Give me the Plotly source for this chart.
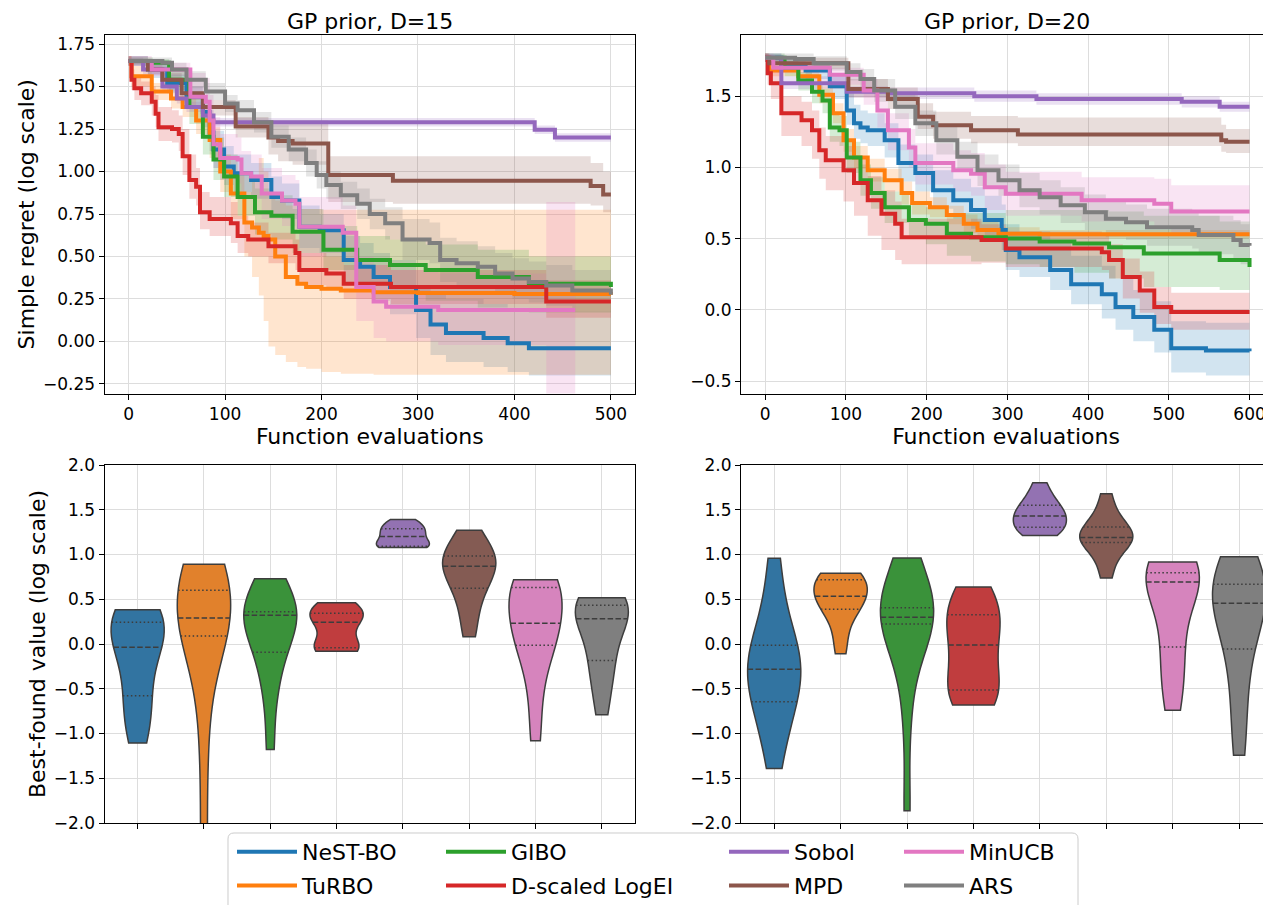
import numpy as np
import plotly.graph_objects as go

W, H = 1271, 905
OFF = 8  # the page body offsets the figure by 8px; layout positions below are screen pixels
FONT = "DejaVu Sans"

methods = ["NeST-BO", "TuRBO", "GIBO", "D-scaled LogEI", "Sobol", "MPD", "MinUCB", "ARS"]
line_colors = ["#1f77b4", "#ff7f0e", "#2ca02c", "#d62728", "#9467bd", "#8c564b", "#e377c2", "#7f7f7f"]
violin_colors = ["#3274a1", "#e1812c", "#3a923a", "#c03d3e", "#9372b2", "#845b53", "#d684bd", "#7f7f7f"]
legend_of = {"NeST-BO": "legend", "TuRBO": "legend", "GIBO": "legend2", "D-scaled LogEI": "legend2",
             "Sobol": "legend3", "MPD": "legend3", "MinUCB": "legend4", "ARS": "legend4"}

titles = ["GP prior, D=15", "GP prior, D=20"]
x_ticks_15 = [0, 100, 200, 300, 400, 500]
x_ticks_20 = [0, 100, 200, 300, 400, 500, 600]
y_ticks_15 = [-0.25, 0.0, 0.25, 0.5, 0.75, 1.0, 1.25, 1.5, 1.75]
y_ticks_20 = [-0.5, 0.0, 0.5, 1.0, 1.5]
y_ticks_violin = [-2.0, -1.5, -1.0, -0.5, 0.0, 0.5, 1.0, 1.5, 2.0]

# ---------------- D = 15 : simple regret curves ----------------
d15_nest_x = [0, 20, 40, 60, 77, 84, 88, 99, 109, 127, 148, 159, 177, 198, 223, 240, 254, 271, 298, 313, 329, 368, 393, 415, 500]
d15_nest_y = [1.65, 1.60, 1.52, 1.44, 1.35, 1.23, 1.13, 1.03, 0.99, 0.95, 0.85, 0.83, 0.675, 0.655, 0.48, 0.44, 0.38, 0.32, 0.185, 0.10, 0.05, 0.02, -0.01, -0.04, -0.04]
d15_nest_hi = [1.68, 1.64, 1.57, 1.50, 1.42, 1.32, 1.24, 1.15, 1.10, 1.05, 0.97, 0.93, 0.80, 0.75, 0.62, 0.58, 0.52, 0.48, 0.33, 0.28, 0.25, 0.22, 0.20, 0.18, 0.18]
d15_nest_lo = [1.62, 1.55, 1.46, 1.37, 1.26, 1.12, 1.02, 0.92, 0.88, 0.84, 0.74, 0.72, 0.55, 0.52, 0.34, 0.30, 0.24, 0.16, 0.02, -0.08, -0.12, -0.15, -0.18, -0.20, -0.20]

d15_turbo_x = [0, 3, 24, 44, 56, 70, 84, 95, 106, 120, 128, 135, 140, 145, 152, 163, 175, 184, 200, 220, 254, 300, 400, 500]
d15_turbo_y = [1.65, 1.56, 1.47, 1.43, 1.38, 1.30, 1.185, 1.00, 0.87, 0.70, 0.67, 0.64, 0.62, 0.60, 0.50, 0.38, 0.34, 0.32, 0.31, 0.30, 0.29, 0.285, 0.28, 0.275]
d15_turbo_hi = [1.68, 1.62, 1.52, 1.48, 1.43, 1.36, 1.26, 1.10, 0.98, 0.88, 0.95, 1.08, 1.00, 0.86, 0.83, 0.80, 0.78, 0.78, 0.775, 0.775, 0.775, 0.775, 0.775, 0.775]
d15_turbo_lo = [1.62, 1.50, 1.42, 1.37, 1.32, 1.22, 1.08, 0.88, 0.72, 0.50, 0.38, 0.27, 0.12, -0.03, -0.08, -0.12, -0.15, -0.16, -0.18, -0.19, -0.195, -0.195, -0.195, -0.195]

d15_gibo_x = [0, 25, 42, 63, 77, 88, 99, 113, 131, 148, 170, 202, 237, 271, 308, 362, 415, 500]
d15_gibo_y = [1.65, 1.64, 1.54, 1.38, 1.205, 1.07, 0.97, 0.85, 0.76, 0.74, 0.645, 0.54, 0.48, 0.45, 0.42, 0.38, 0.34, 0.32]
d15_gibo_hi = [1.67, 1.66, 1.60, 1.47, 1.32, 1.20, 1.10, 0.98, 0.90, 0.86, 0.78, 0.68, 0.62, 0.60, 0.57, 0.54, 0.50, 0.48]
d15_gibo_lo = [1.63, 1.61, 1.48, 1.28, 1.10, 0.95, 0.85, 0.74, 0.63, 0.60, 0.52, 0.42, 0.33, 0.28, 0.24, 0.20, 0.17, 0.16]

d15_logei_x = [0, 3, 6, 13, 24, 28, 31, 45, 52, 56, 63, 70, 74, 84, 106, 113, 124, 145, 173, 177, 205, 223, 272, 433, 500]
d15_logei_y = [1.65, 1.54, 1.49, 1.46, 1.41, 1.34, 1.26, 1.25, 1.22, 1.09, 0.95, 0.91, 0.76, 0.72, 0.695, 0.62, 0.60, 0.56, 0.52, 0.42, 0.40, 0.34, 0.32, 0.235, 0.235]
d15_logei_hi = [1.68, 1.60, 1.56, 1.53, 1.50, 1.45, 1.38, 1.36, 1.33, 1.25, 1.10, 1.02, 0.88, 0.85, 0.82, 0.74, 0.70, 0.64, 0.60, 0.52, 0.50, 0.45, 0.42, 0.36, 0.36]
d15_logei_lo = [1.62, 1.48, 1.42, 1.39, 1.33, 1.26, 1.18, 1.17, 1.12, 0.98, 0.84, 0.80, 0.66, 0.62, 0.58, 0.52, 0.50, 0.46, 0.42, 0.33, 0.31, 0.25, 0.22, 0.14, 0.14]

d15_sobol_x = [0, 15, 35, 50, 60, 77, 88, 421, 442, 500]
d15_sobol_y = [1.65, 1.60, 1.50, 1.43, 1.38, 1.33, 1.29, 1.245, 1.20, 1.20]
d15_sobol_hi = [1.67, 1.63, 1.53, 1.46, 1.41, 1.36, 1.315, 1.27, 1.225, 1.225]
d15_sobol_lo = [1.63, 1.57, 1.47, 1.40, 1.35, 1.30, 1.265, 1.22, 1.175, 1.175]

d15_mpd_x = [0, 20, 35, 55, 77, 111, 145, 155, 170, 207, 274, 479, 492, 500]
d15_mpd_y = [1.65, 1.60, 1.54, 1.46, 1.38, 1.265, 1.20, 1.18, 1.165, 0.98, 0.945, 0.915, 0.865, 0.865]
d15_mpd_hi = [1.68, 1.63, 1.58, 1.50, 1.42, 1.32, 1.30, 1.30, 1.30, 1.09, 1.09, 1.05, 1.00, 1.00]
d15_mpd_lo = [1.62, 1.57, 1.50, 1.42, 1.33, 1.20, 1.10, 1.06, 1.04, 0.82, 0.81, 0.80, 0.76, 0.76]

d15_minucb_x = [0, 24, 64, 80, 84, 88, 95, 113, 117, 127, 138, 159, 173, 177, 222, 236, 254, 267, 321, 433, 463]
d15_minucb_y = [1.65, 1.60, 1.44, 1.41, 1.30, 1.16, 1.08, 1.07, 0.99, 0.97, 0.87, 0.83, 0.81, 0.675, 0.64, 0.32, 0.235, 0.205, 0.185, 0.185, 0.185]
d15_minucb_hi = [1.68, 1.64, 1.58, 1.55, 1.45, 1.32, 1.22, 1.20, 1.12, 1.10, 1.02, 0.98, 0.95, 0.85, 0.80, 0.50, 0.45, 0.42, 0.40, 0.82, 0.82]
d15_minucb_lo = [1.62, 1.56, 1.36, 1.30, 1.18, 1.02, 0.95, 0.93, 0.86, 0.84, 0.72, 0.68, 0.66, 0.50, 0.47, 0.12, 0.02, 0.00, -0.02, -0.50, -0.50]

d15_ars_x = [0, 35, 45, 60, 80, 100, 113, 130, 148, 166, 184, 195, 205, 220, 237, 250, 266, 284, 312, 323, 340, 362, 380, 398, 415, 433, 460, 500]
d15_ars_y = [1.65, 1.64, 1.60, 1.54, 1.47, 1.40, 1.36, 1.29, 1.205, 1.13, 1.05, 0.98, 0.92, 0.86, 0.81, 0.75, 0.695, 0.60, 0.58, 0.48, 0.46, 0.44, 0.40, 0.37, 0.35, 0.33, 0.30, 0.275]
d15_ars_hi = [1.67, 1.67, 1.64, 1.59, 1.52, 1.45, 1.42, 1.35, 1.27, 1.20, 1.13, 1.06, 1.00, 0.94, 0.90, 0.84, 0.79, 0.72, 0.70, 0.61, 0.59, 0.56, 0.52, 0.49, 0.47, 0.45, 0.42, 0.40]
d15_ars_lo = [1.63, 1.61, 1.56, 1.49, 1.42, 1.35, 1.30, 1.23, 1.14, 1.06, 0.97, 0.90, 0.84, 0.78, 0.72, 0.66, 0.60, 0.48, 0.46, 0.35, 0.33, 0.31, 0.28, 0.25, 0.23, 0.21, 0.18, 0.15]

# ---------------- D = 20 : simple regret curves ----------------
d20_nest_x = [0, 20, 50, 80, 101, 110, 118, 127, 148, 165, 186, 208, 233, 255, 272, 293, 298, 315, 353, 379, 417, 434, 456, 482, 503, 546, 600]
d20_nest_y = [1.77, 1.72, 1.68, 1.57, 1.40, 1.31, 1.28, 1.26, 1.19, 1.03, 0.96, 0.84, 0.77, 0.70, 0.63, 0.56, 0.42, 0.37, 0.28, 0.18, 0.11, 0.02, -0.05, -0.14, -0.27, -0.285, -0.29]
d20_nest_hi = [1.80, 1.76, 1.73, 1.65, 1.52, 1.44, 1.40, 1.38, 1.31, 1.16, 1.09, 0.98, 0.92, 0.86, 0.80, 0.74, 0.60, 0.55, 0.47, 0.38, 0.31, 0.22, 0.14, 0.06, -0.08, -0.09, -0.10]
d20_nest_lo = [1.74, 1.68, 1.62, 1.48, 1.30, 1.20, 1.17, 1.15, 1.07, 0.90, 0.83, 0.71, 0.64, 0.57, 0.50, 0.42, 0.28, 0.23, 0.14, 0.04, -0.06, -0.14, -0.22, -0.30, -0.44, -0.46, -0.48]

d20_turbo_x = [0, 5, 41, 67, 84, 97, 110, 127, 148, 169, 182, 204, 225, 246, 263, 289, 340, 600]
d20_turbo_y = [1.77, 1.68, 1.64, 1.51, 1.38, 1.19, 1.07, 0.98, 0.91, 0.82, 0.75, 0.72, 0.665, 0.605, 0.56, 0.535, 0.53, 0.53]
d20_turbo_hi = [1.80, 1.72, 1.69, 1.57, 1.45, 1.27, 1.15, 1.06, 0.99, 0.90, 0.83, 0.79, 0.73, 0.67, 0.62, 0.58, 0.56, 0.56]
d20_turbo_lo = [1.74, 1.64, 1.59, 1.45, 1.31, 1.11, 0.99, 0.90, 0.83, 0.74, 0.67, 0.65, 0.60, 0.54, 0.50, 0.49, 0.50, 0.50]

d20_gibo_x = [0, 24, 41, 58, 71, 80, 92, 101, 118, 131, 148, 178, 199, 225, 255, 298, 340, 383, 426, 469, 563, 600]
d20_gibo_y = [1.77, 1.70, 1.61, 1.53, 1.47, 1.28, 1.26, 1.07, 0.91, 0.82, 0.72, 0.63, 0.605, 0.535, 0.51, 0.50, 0.48, 0.465, 0.44, 0.395, 0.35, 0.30]
d20_gibo_hi = [1.80, 1.75, 1.67, 1.60, 1.55, 1.38, 1.36, 1.18, 1.02, 0.93, 0.83, 0.74, 0.72, 0.68, 0.68, 0.70, 0.70, 0.70, 0.69, 0.66, 0.62, 0.60]
d20_gibo_lo = [1.74, 1.64, 1.54, 1.45, 1.38, 1.18, 1.15, 0.96, 0.80, 0.71, 0.61, 0.50, 0.46, 0.38, 0.34, 0.32, 0.30, 0.26, 0.22, 0.16, 0.14, 0.13]

d20_logei_x = [0, 3, 7, 20, 45, 58, 67, 75, 97, 110, 127, 144, 161, 169, 268, 298, 417, 426, 443, 464, 482, 503, 600]
d20_logei_y = [1.77, 1.66, 1.59, 1.38, 1.33, 1.26, 1.12, 1.05, 0.98, 0.89, 0.77, 0.675, 0.605, 0.51, 0.49, 0.43, 0.405, 0.35, 0.23, 0.135, 0.02, -0.015, -0.015]
d20_logei_hi = [1.80, 1.72, 1.68, 1.50, 1.46, 1.40, 1.28, 1.22, 1.15, 1.06, 0.94, 0.84, 0.76, 0.64, 0.60, 0.55, 0.52, 0.46, 0.36, 0.27, 0.16, 0.12, 0.12]
d20_logei_lo = [1.74, 1.58, 1.48, 1.22, 1.15, 1.06, 0.92, 0.84, 0.76, 0.66, 0.52, 0.42, 0.35, 0.32, 0.33, 0.30, 0.28, 0.22, 0.08, -0.02, -0.10, -0.14, -0.14]

d20_sobol_x = [0, 20, 101, 152, 259, 336, 516, 563, 600]
d20_sobol_y = [1.77, 1.59, 1.53, 1.52, 1.50, 1.48, 1.46, 1.425, 1.425]
d20_sobol_hi = [1.80, 1.64, 1.57, 1.56, 1.54, 1.52, 1.50, 1.46, 1.46]
d20_sobol_lo = [1.74, 1.55, 1.49, 1.48, 1.46, 1.44, 1.42, 1.39, 1.39]

d20_mpd_x = [0, 5, 103, 152, 189, 208, 255, 313, 565, 571, 600]
d20_mpd_y = [1.77, 1.73, 1.55, 1.48, 1.355, 1.295, 1.26, 1.23, 1.19, 1.18, 1.18]
d20_mpd_hi = [1.80, 1.77, 1.62, 1.56, 1.45, 1.39, 1.36, 1.35, 1.30, 1.27, 1.27]
d20_mpd_lo = [1.74, 1.69, 1.49, 1.41, 1.27, 1.20, 1.17, 1.15, 1.11, 1.10, 1.10]

d20_minucb_x = [0, 10, 80, 122, 139, 152, 178, 186, 233, 255, 272, 298, 392, 482, 503, 600]
d20_minucb_y = [1.77, 1.70, 1.65, 1.54, 1.40, 1.26, 1.14, 1.03, 0.98, 0.955, 0.86, 0.815, 0.77, 0.745, 0.69, 0.69]
d20_minucb_hi = [1.80, 1.74, 1.70, 1.62, 1.50, 1.38, 1.27, 1.17, 1.12, 1.10, 1.02, 0.97, 0.93, 0.92, 0.875, 0.875]
d20_minucb_lo = [1.74, 1.66, 1.58, 1.44, 1.28, 1.12, 1.00, 0.88, 0.83, 0.80, 0.70, 0.66, 0.62, 0.58, 0.535, 0.535]

d20_ars_x = [0, 37, 60, 101, 118, 135, 161, 186, 212, 238, 263, 289, 315, 340, 366, 396, 422, 447, 473, 529, 537, 580, 589, 600]
d20_ars_y = [1.77, 1.76, 1.73, 1.67, 1.62, 1.54, 1.425, 1.31, 1.19, 1.075, 0.98, 0.91, 0.84, 0.79, 0.735, 0.685, 0.64, 0.615, 0.58, 0.56, 0.525, 0.49, 0.455, 0.45]
d20_ars_hi = [1.80, 1.80, 1.78, 1.73, 1.69, 1.62, 1.51, 1.40, 1.29, 1.18, 1.09, 1.02, 0.96, 0.91, 0.86, 0.81, 0.77, 0.74, 0.71, 0.69, 0.66, 0.63, 0.60, 0.60]
d20_ars_lo = [1.74, 1.72, 1.68, 1.61, 1.55, 1.46, 1.34, 1.22, 1.09, 0.97, 0.87, 0.80, 0.72, 0.67, 0.61, 0.56, 0.51, 0.49, 0.45, 0.43, 0.39, 0.36, 0.32, 0.31]

# ---------------- best-found values (per-run samples) ----------------
v15_nest = [-1.107, -0.90, -0.70, -0.578, -0.30, -0.10, -0.037, 0.10, 0.20, 0.242, 0.32, 0.36, 0.384]
v15_turbo = [-2.30, -1.20, -0.40, 0.09, 0.18, 0.24, 0.29, 0.42, 0.52, 0.60, 0.72, 0.82, 0.89]
v15_gibo = [-1.18, -0.60, -0.30, -0.093, 0.05, 0.20, 0.32, 0.33, 0.35, 0.36, 0.45, 0.60, 0.73]
v15_logei = [-0.082, -0.07, -0.05, -0.041, 0.00, 0.15, 0.242, 0.28, 0.32, 0.343, 0.38, 0.42, 0.462]
v15_sobol = [1.077, 1.08, 1.085, 1.092, 1.12, 1.16, 1.20, 1.23, 1.26, 1.289, 1.32, 1.35, 1.39]
v15_mpd = [0.082, 0.30, 0.50, 0.622, 0.72, 0.80, 0.868, 0.90, 0.95, 0.984, 1.05, 1.15, 1.27]
v15_minucb = [-1.08, -0.60, -0.20, -0.015, 0.08, 0.16, 0.231, 0.40, 0.55, 0.63, 0.67, 0.70, 0.719]
v15_ars = [-0.79, -0.50, -0.30, -0.183, 0.00, 0.15, 0.283, 0.33, 0.40, 0.432, 0.47, 0.50, 0.518]

v20_nest = [-1.39, -1.00, -0.80, -0.645, -0.50, -0.38, -0.283, -0.20, -0.10, -0.015, 0.20, 0.50, 0.958]
v20_turbo = [-0.108, 0.10, 0.30, 0.387, 0.45, 0.50, 0.533, 0.58, 0.65, 0.719, 0.74, 0.77, 0.79]
v20_gibo = [-1.863, -0.80, -0.20, 0.224, 0.25, 0.28, 0.298, 0.33, 0.37, 0.406, 0.55, 0.75, 0.961]
v20_logei = [-0.682, -0.62, -0.56, -0.514, -0.35, -0.18, -0.011, 0.10, 0.22, 0.328, 0.42, 0.53, 0.637]
v20_sobol = [1.211, 1.24, 1.28, 1.304, 1.35, 1.40, 1.43, 1.46, 1.50, 1.55, 1.60, 1.68, 1.803]
v20_mpd = [0.738, 0.90, 1.05, 1.133, 1.15, 1.17, 1.189, 1.22, 1.27, 1.308, 1.38, 1.50, 1.68]
v20_minucb = [-0.741, -0.50, -0.25, -0.034, 0.20, 0.50, 0.693, 0.72, 0.76, 0.797, 0.84, 0.88, 0.917]
v20_ars = [-1.244, -0.80, -0.40, -0.056, 0.15, 0.33, 0.455, 0.52, 0.60, 0.667, 0.75, 0.85, 0.976]

curves15 = [
    (d15_nest_x, d15_nest_y, d15_nest_lo, d15_nest_hi),
    (d15_turbo_x, d15_turbo_y, d15_turbo_lo, d15_turbo_hi),
    (d15_gibo_x, d15_gibo_y, d15_gibo_lo, d15_gibo_hi),
    (d15_logei_x, d15_logei_y, d15_logei_lo, d15_logei_hi),
    (d15_sobol_x, d15_sobol_y, d15_sobol_lo, d15_sobol_hi),
    (d15_mpd_x, d15_mpd_y, d15_mpd_lo, d15_mpd_hi),
    (d15_minucb_x, d15_minucb_y, d15_minucb_lo, d15_minucb_hi),
    (d15_ars_x, d15_ars_y, d15_ars_lo, d15_ars_hi),
]
curves20 = [
    (d20_nest_x, d20_nest_y, d20_nest_lo, d20_nest_hi),
    (d20_turbo_x, d20_turbo_y, d20_turbo_lo, d20_turbo_hi),
    (d20_gibo_x, d20_gibo_y, d20_gibo_lo, d20_gibo_hi),
    (d20_logei_x, d20_logei_y, d20_logei_lo, d20_logei_hi),
    (d20_sobol_x, d20_sobol_y, d20_sobol_lo, d20_sobol_hi),
    (d20_mpd_x, d20_mpd_y, d20_mpd_lo, d20_mpd_hi),
    (d20_minucb_x, d20_minucb_y, d20_minucb_lo, d20_minucb_hi),
    (d20_ars_x, d20_ars_y, d20_ars_lo, d20_ars_hi),
]
violins15 = [v15_nest, v15_turbo, v15_gibo, v15_logei, v15_sobol, v15_mpd, v15_minucb, v15_ars]
violins20 = [v20_nest, v20_turbo, v20_gibo, v20_logei, v20_sobol, v20_mpd, v20_minucb, v20_ars]


def rgba(hexc, a):
    h = hexc.lstrip("#")
    return "rgba(%d,%d,%d,%.2f)" % (int(h[0:2], 16), int(h[2:4], 16), int(h[4:6], 16), a)


fig = go.Figure()


def add_curves(curves, xa, ya, legend_on):
    for (x, y, lo, hi), c in zip(curves, line_colors):
        fig.add_trace(go.Scatter(x=x, y=lo, xaxis=xa, yaxis=ya, mode="lines",
                                 line=dict(width=0, shape="hv", color=c),
                                 showlegend=False, hoverinfo="skip"))
        fig.add_trace(go.Scatter(x=x, y=hi, xaxis=xa, yaxis=ya, mode="lines",
                                 line=dict(width=0, shape="hv", color=c),
                                 fill="tonexty", fillcolor=rgba(c, 0.2),
                                 showlegend=False, hoverinfo="skip"))
    for (x, y, lo, hi), c, name in zip(curves, line_colors, methods):
        fig.add_trace(go.Scatter(x=x, y=y, xaxis=xa, yaxis=ya, mode="lines", name=name,
                                 line=dict(width=4, shape="hv", color=c),
                                 showlegend=legend_on, legend=legend_of[name],
                                 legendgroup=name, hoverinfo="skip"))


def kde(vals, bw, t):
    v = np.asarray(vals, dtype=float)
    z = (np.asarray(t)[:, None] - v[None, :]) / bw
    return np.exp(-0.5 * z * z).sum(axis=1) / (len(v) * bw * np.sqrt(2 * np.pi))


VW = 0.8
EDGE = "#3d3d3d"


def add_violins(groups, xa, ya, tag):
    for i, (s, c) in enumerate(zip(groups, violin_colors)):
        s = np.asarray(s, dtype=float)
        bw = float(np.std(s, ddof=1) * len(s) ** (-0.2))
        fig.add_trace(go.Violin(x0=i, y=s, xaxis=xa, yaxis=ya, name=methods[i],
                                width=VW, spanmode="hard", bandwidth=bw,
                                scalemode="width", scalegroup="%s%d" % (tag, i),
                                fillcolor=c, opacity=1, line=dict(color=EDGE, width=1.5),
                                points=False, box_visible=False, meanline_visible=False,
                                showlegend=False, hoverinfo="skip"))
        lo, hi = s.min(), s.max()
        n = int(np.ceil((hi - lo) / (bw / 3)))
        grid = lo + (hi - lo) / n * np.arange(n + 1)
        dmax = kde(s, bw, grid).max()
        for q, dash in [(25, "1.5px,2.5px"), (50, "5.5px,2.4px"), (75, "1.5px,2.5px")]:
            v = float(np.percentile(s, q))
            hw = VW / 2 * float(kde(s, bw, [v])[0]) / dmax
            fig.add_trace(go.Scatter(x=[i - hw, i + hw], y=[v, v], xaxis=xa, yaxis=ya,
                                     mode="lines", line=dict(color=EDGE, width=1.5, dash=dash),
                                     showlegend=False, hoverinfo="skip"))


add_curves(curves15, "x", "y", True)
add_curves(curves20, "x2", "y2", False)
add_violins(violins15, "x3", "y3", "a")
add_violins(violins20, "x4", "y4", "b")


def px(v):
    return (v - OFF) / W


def py(v):
    return 1 - (v - OFF) / H


dom_left = [px(104.5), px(635)]
dom_right = [px(741), px(1271)]
dom_top = [py(393.5), py(35)]
dom_bot = [py(823), py(465)]

tickfont = dict(size=17, family=FONT, color="black")
labfont = dict(size=22, family=FONT, color="black")
common = dict(showline=True, linecolor="black", linewidth=1, ticks="outside", ticklen=5,
              tickwidth=1, tickcolor="black", showgrid=True, gridcolor="#dddddd", gridwidth=1,
              zeroline=False, tickfont=tickfont, type="linear", automargin=False)

fig.update_layout(
    width=W, height=H, margin=dict(l=0, r=0, t=0, b=0, autoexpand=False),
    paper_bgcolor="white", plot_bgcolor="white", hovermode=False,
    font=dict(family=FONT, color="black"),
    violinmode="overlay", showlegend=True,
    xaxis=dict(common, domain=dom_left, anchor="y", range=[-25, 525], tickvals=x_ticks_15,
               mirror=True, title=dict(text="Function evaluations", font=labfont, standoff=4)),
    yaxis=dict(common, domain=dom_top, anchor="x", range=[-0.306, 1.803], tickvals=y_ticks_15,
               tickformat=".2f", mirror=True,
               title=dict(text="Simple regret (log scale)", font=labfont, standoff=2)),
    xaxis2=dict(common, domain=dom_right, anchor="y2", range=[-30, 626.6], tickvals=x_ticks_20,
                mirror=True, title=dict(text="Function evaluations", font=labfont, standoff=4)),
    yaxis2=dict(common, domain=dom_top, anchor="x2", range=[-0.587, 1.929], tickvals=y_ticks_20,
                tickformat=".1f", mirror=False),
    xaxis3=dict(common, domain=dom_left, anchor="y3", range=[-0.5, 7.5], tickvals=list(range(8)),
                showticklabels=False, mirror=True),
    yaxis3=dict(common, domain=dom_bot, anchor="x3", range=[-2, 2], tickvals=y_ticks_violin,
                tickformat=".1f", mirror=True,
                title=dict(text="Best-found value (log scale)", font=labfont, standoff=2)),
    xaxis4=dict(common, domain=dom_right, anchor="y4", range=[-0.5, 7.48], tickvals=list(range(8)),
                showticklabels=False, mirror=True),
    yaxis4=dict(common, domain=dom_bot, anchor="x4", range=[-2, 2], tickvals=y_ticks_violin,
                tickformat=".1f", mirror=False),
)

for t, cx in zip(titles, [370, 1007]):
    fig.add_annotation(text=t, x=px(cx), y=py(21), xref="paper", yref="paper",
                       showarrow=False, xanchor="center", yanchor="middle", font=labfont)

x0, x1, y1, y0 = px(228), px(1078), py(833), -0.05
rx, ry = 6 / W, 6 / H
path = ("M %f,%f L %f,%f Q %f,%f %f,%f L %f,%f Q %f,%f %f,%f L %f,%f Z" %
        (x0, y0, x0, y1 - ry, x0, y1, x0 + rx, y1, x1 - rx, y1, x1, y1, x1, y1 - ry, x1, y0))
fig.add_shape(type="path", path=path, xref="paper", yref="paper",
              line=dict(color="#cccccc", width=1), fillcolor="rgba(255,255,255,0.8)", layer="above")

legend_x = [232, 441, 724, 899]
for key, lx in zip(["legend", "legend2", "legend3", "legend4"], legend_x):
    fig.update_layout({key: dict(x=px(lx), xanchor="left", y=py(831), yanchor="top",
                                 orientation="v", bgcolor="rgba(0,0,0,0)", borderwidth=0,
                                 font=dict(size=22, family=FONT, color="black"),
                                 itemwidth=60, tracegroupgap=2)})

fig.write_html("out.html")
